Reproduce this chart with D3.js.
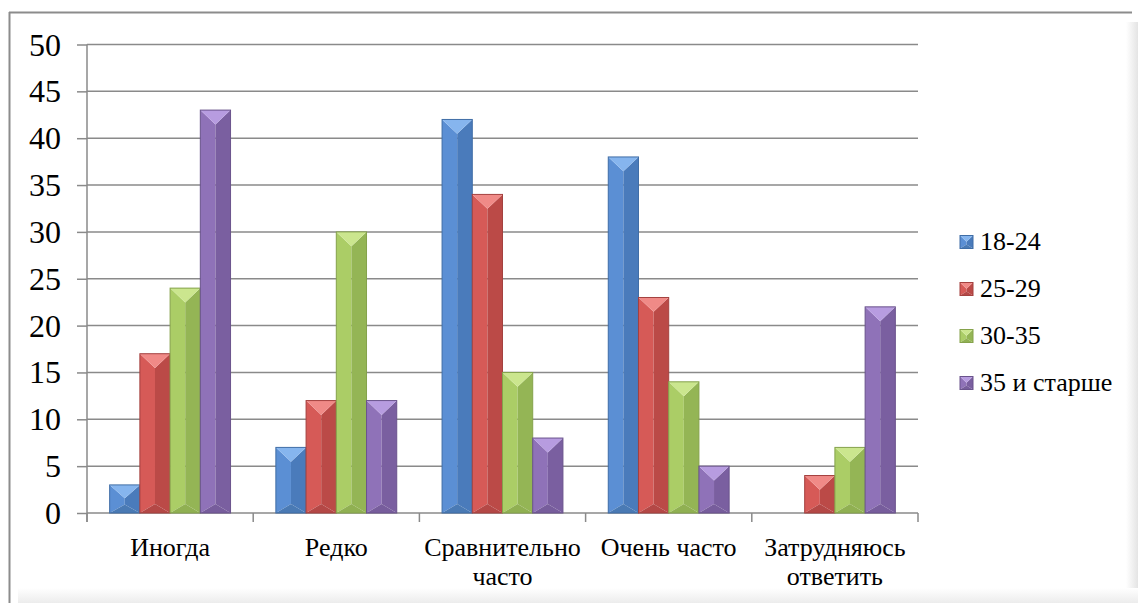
<!DOCTYPE html>
<html>
<head>
<meta charset="utf-8">
<script src="https://cdn.jsdelivr.net/npm/d3@7"></script>
<style>
  body { margin: 0; background: #fff; }
  #chart { position: relative; width: 1138px; height: 603px; }
  #chart svg { position: absolute; left: 0; top: 0; }
  .lbl { position: absolute; font-family: "Liberation Serif", "Times New Roman", serif; color: #000; white-space: nowrap; line-height: 1; }
</style>
</head>
<body>
<div id="chart"></div>
<script>
// data
var categories = ["Иногда", "Редко", "Сравнительно часто", "Очень часто", "Затрудняюсь ответить"];
var seriesNames = ["18-24", "25-29", "30-35", "35 и старше"];
var v1824 = [3, 7, 42, 38, 0];
var v2529 = [17, 12, 34, 23, 4];
var v3035 = [24, 30, 15, 14, 7];
var v35up = [43, 12, 8, 5, 22];
var yTicks = [0, 5, 10, 15, 20, 25, 30, 35, 40, 45, 50];

var seriesValues = [v1824, v2529, v3035, v35up];

// face colours: top, left, right, bottom
var palette = [
    {top: "#86b5ee", left: "#5b8fd4", right: "#4a7bbb", bottom: "#4a7ab4", edge: "#3f6da6"},
    {top: "#f08a87", left: "#d65a57", right: "#bb4a47", bottom: "#b44846", edge: "#a4413f"},
    {top: "#cbe68e", left: "#abcd66", right: "#94b555", bottom: "#90b052", edge: "#85a24b"},
    {top: "#b79ce0", left: "#8f72b8", right: "#7a5fa0", bottom: "#775d9c", edge: "#6a538c"}
];

var width = 1138, height = 603;
var plot = {left: 87, right: 918, top: 44.5, bottom: 513};

var chart = d3.select("#chart");
var svg = chart.append("svg")
    .attr("width", width)
    .attr("height", height);

// chart frame + soft shadow
var defs = svg.append("defs");
var gr = defs.append("linearGradient").attr("id", "shR");
gr.append("stop").attr("offset", "0%").attr("stop-color", "#fff");
gr.append("stop").attr("offset", "100%").attr("stop-color", "#e4e4e4");
var gb = defs.append("linearGradient").attr("id", "shB").attr("x1", 0).attr("x2", 0).attr("y1", 0).attr("y2", 1);
gb.append("stop").attr("offset", "0%").attr("stop-color", "#fff");
gb.append("stop").attr("offset", "100%").attr("stop-color", "#ececec");

svg.append("rect").attr("x", 1126).attr("y", 22).attr("width", 12).attr("height", 581).attr("fill", "url(#shR)");
svg.append("rect").attr("x", 18).attr("y", 588).attr("width", 1120).attr("height", 15).attr("fill", "url(#shB)");
svg.append("line").attr("x1", 9).attr("x2", 1132).attr("y1", 12.5).attr("y2", 12.5)
    .attr("stroke", "#8c8c8c").attr("stroke-width", 2);
svg.append("line").attr("x1", 9.5).attr("x2", 9.5).attr("y1", 12).attr("y2", 603)
    .attr("stroke", "#8c8c8c").attr("stroke-width", 2);

var y = d3.scaleLinear().domain([0, 50]).range([plot.bottom, plot.top]);

var x0 = d3.scaleBand().domain(categories).range([plot.left, plot.right]).padding(0);
var x1 = d3.scaleBand().domain(seriesNames).range([0, x0.bandwidth()])
    .paddingInner(0).paddingOuter(0.75);

// gridlines
svg.append("g")
    .selectAll("line")
    .data(yTicks.filter(function(d) { return d > 0; }))
    .enter().append("line")
        .attr("x1", plot.left).attr("x2", plot.right)
        .attr("y1", function(d) { return y(d); })
        .attr("y2", function(d) { return y(d); })
        .attr("stroke", "#8a8a8a")
        .attr("stroke-width", 1.5);

// y axis (lines from d3, labels as html)
var leftAxis = d3.axisLeft(y).tickValues(yTicks).tickSize(10).tickFormat("");
var ya = svg.append("g")
    .attr("transform", "translate(" + plot.left + ",0)")
    .call(leftAxis);
ya.selectAll("path, line").attr("stroke", "#8a8a8a").attr("stroke-width", 1.5);
ya.select(".domain").attr("d", "M0," + plot.top + "V" + (plot.bottom + 9));

chart.selectAll(".ytick").data(yTicks).enter().append("div")
    .attr("class", "lbl ytick")
    .style("font-size", "32px")
    .style("right", (width - (plot.left - 26)) + "px")
    .style("top", function(d) { return (y(d) - 16) + "px"; })
    .text(function(d) { return d; });

// x axis: ticks at group edges
var edges = categories.map(function(c) { return x0(c); }).concat([plot.right]);
var xa = svg.append("g");
xa.append("line")
    .attr("x1", plot.left).attr("x2", plot.right)
    .attr("y1", plot.bottom).attr("y2", plot.bottom)
    .attr("stroke", "#8a8a8a").attr("stroke-width", 1.5);
xa.selectAll(".tk").data(edges).enter().append("line")
    .attr("class", "tk")
    .attr("x1", function(d) { return d; }).attr("x2", function(d) { return d; })
    .attr("y1", plot.bottom).attr("y2", plot.bottom + 9)
    .attr("stroke", "#8a8a8a").attr("stroke-width", 1.5);

var labelLines = {
    "Сравнительно часто": ["Сравнительно", "часто"],
    "Затрудняюсь ответить": ["Затрудняюсь", "ответить"]
};
categories.forEach(function(c) {
    var lines = labelLines[c] || [c];
    chart.append("div")
        .attr("class", "lbl")
        .style("font-size", "26px")
        .style("line-height", "29px")
        .style("text-align", "center")
        .style("width", "200px")
        .style("left", (x0(c) + x0.bandwidth() / 2 - 100) + "px")
        .style("top", "533px")
        .html(lines.join("<br>"));
});

// bevelled bars
function drawBar(g, bx, bw, top, bottom, col) {
    var h = bottom - top;
    if (h <= 0) return;
    var d = Math.min(bw / 2, h / 2) * 0.95;
    var db = Math.min(bw / 2, h / 2) * 0.6;
    var cx = bx + bw / 2;
    var r = bx + bw;
    var pt = function(a) { return a.map(function(p) { return p.join(","); }).join(" "); };
    g.append("polygon").attr("points", pt([[bx, top], [cx, top + d], [cx, bottom - db], [bx, bottom]])).attr("fill", col.left);
    g.append("polygon").attr("points", pt([[r, top], [cx, top + d], [cx, bottom - db], [r, bottom]])).attr("fill", col.right);
    g.append("polygon").attr("points", pt([[bx, top], [r, top], [cx, top + d]])).attr("fill", col.top);
    g.append("polygon").attr("points", pt([[bx, bottom], [r, bottom], [cx, bottom - db]])).attr("fill", col.bottom);
    g.append("rect").attr("x", bx).attr("y", top).attr("width", bw).attr("height", h)
        .attr("fill", "none").attr("stroke", col.edge).attr("stroke-width", 1);
}

var bars = svg.append("g");
categories.forEach(function(c, ci) {
    seriesNames.forEach(function(s, si) {
        var v = seriesValues[si][ci];
        if (!v) return;
        drawBar(bars, x0(c) + x1(s), x1.bandwidth(), y(v), y(0), palette[si]);
    });
});

// legend
var legend = svg.append("g");
seriesNames.forEach(function(s, i) {
    var ly = 242 + i * 47;
    drawBar(legend, 960, 13, ly - 6.5, ly + 6.5, palette[i]);
    chart.append("div")
        .attr("class", "lbl")
        .style("font-size", "26px")
        .style("left", "980px")
        .style("top", (ly - 13) + "px")
        .text(s);
});
</script>
</body>
</html>
